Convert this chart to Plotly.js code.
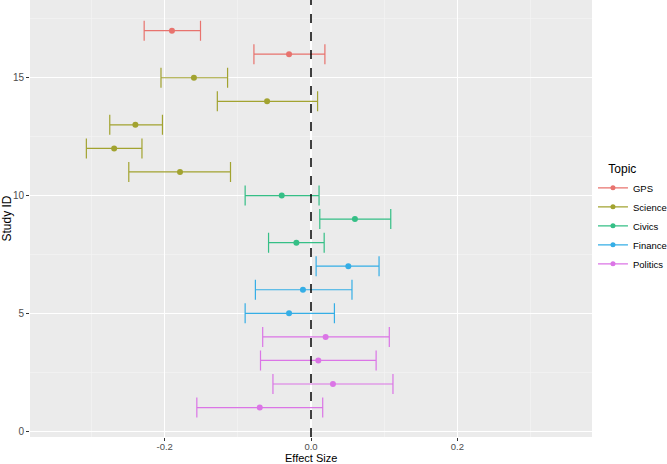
<!DOCTYPE html>
<html><head><meta charset="utf-8">
<script src="https://cdn.plot.ly/plotly-3.0.1.min.js"></script>
<style>html,body{margin:0;padding:0;background:#fff;}#chart{width:667px;height:464px;}</style>
</head><body><div id="chart"></div>
<script>
const topics = ["GPS","Science","Civics","Finance","Politics"];
const colors = ["#E8736E","#A2A330","#35BF86","#35AEE6","#DB75E6"];
const studyId = [17,16,15,14,13,12,11,10,9,8,7,6,5,4,3,2,1];
const studyTopic = ["GPS","GPS","Science","Science","Science","Science","Science","Civics","Civics","Civics","Finance","Finance","Finance","Politics","Politics","Politics","Politics"];
const effect = [-0.190,-0.030,-0.160,-0.060,-0.240,-0.269,-0.179,-0.040,0.060,-0.020,0.051,-0.011,-0.030,0.020,0.010,0.030,-0.070];
const lower  = [-0.228,-0.078,-0.205,-0.128,-0.275,-0.307,-0.249,-0.090,0.012,-0.058,0.007,-0.076,-0.090,-0.066,-0.069,-0.052,-0.156];
const upper  = [-0.151,0.019,-0.114,0.009,-0.203,-0.231,-0.110,0.011,0.109,0.018,0.093,0.056,0.032,0.107,0.089,0.112,0.016];
const xTickVals = [-0.2,0,0.2];
const xTickText = ["-0.2","0.0","0.2"];
const yTickVals = [0,5,10,15];
const yTickText = ["0","5","10","15"];

const traces = [];
topics.forEach((t, k) => {
  const idx = studyTopic.map((s,i)=>s===t?i:-1).filter(i=>i>=0);
  traces.push({
    type:'scatter', mode:'markers', name:t, showlegend:false, legendgroup:t,
    x: idx.map(i=>effect[i]), y: idx.map(i=>studyId[i]),
    marker:{color:colors[k], size:6},
    error_x:{type:'data', symmetric:false,
      array: idx.map(i=>upper[i]-effect[i]),
      arrayminus: idx.map(i=>effect[i]-lower[i]),
      color:colors[k], thickness:1.2, width:10},
    hoverinfo:'x+y'
  });
  traces.push({
    type:'scatter', mode:'lines+markers', name:t, legendgroup:t, showlegend:true,
    x:[null], y:[null], line:{color:colors[k], width:1.2}, marker:{color:colors[k], size:5}
  });
});

const layout = {
  width:667, height:464,
  margin:{l:30, r:75, t:0, b:27, autoexpand:false},
  paper_bgcolor:'#fff', plot_bgcolor:'#EBEBEB',
  font:{family:'Liberation Sans, Arial, sans-serif', color:'#000'},
  xaxis:{
    range:[-0.384,0.384], tickmode:'array', tickvals:xTickVals, ticktext:xTickText,
    showgrid:true, gridcolor:'#fff', gridwidth:1.1, zeroline:false,
    ticks:'outside', ticklen:3, tickcolor:'#333', tickwidth:1, ticklabelstandoff:-2,
    tickfont:{size:9.5, color:'#4D4D4D'},
    minor:{tickmode:'array', tickvals:[-0.3,-0.1,0.1,0.3], showgrid:true, gridcolor:'#F5F5F5', gridwidth:0.6, ticks:''},
    automargin:false, showline:false
  },
  yaxis:{
    range:[-0.25,18.3], tickmode:'array', tickvals:yTickVals, ticktext:yTickText,
    showgrid:true, gridcolor:'#fff', gridwidth:1.1, zeroline:false,
    ticks:'outside', ticklen:3, tickcolor:'#333', tickwidth:1,
    tickfont:{size:10, color:'#4D4D4D'},
    minor:{tickmode:'array', tickvals:[2.5,7.5,12.5,17.5], showgrid:true, gridcolor:'#F5F5F5', gridwidth:0.6, ticks:''},
    title:{text:'Study ID', font:{size:12, color:'#000'}, standoff:3},
    automargin:false, showline:false
  },
  annotations:[{text:'Effect Size', xref:'paper', yref:'paper', x:0.5, y:0,
    xanchor:'center', yanchor:'middle', yshift:-21, showarrow:false, borderpad:0,
    font:{size:11, color:'#000'}}],
  shapes:[{type:'line', xref:'x', yref:'paper', x0:0, x1:0, y0:0, y1:1,
    line:{color:'#000', width:1.5, dash:'dash'}}],
  legend:{
    title:{text:'\u00a0\u00a0\u00a0\u00a0Topic', font:{size:12, color:'#000'}},
    xref:'container', yref:'container',
    x:0.889, xanchor:'left', y:0.66, yanchor:'top',
    font:{size:9.5, color:'#000'}, tracegroupgap:0, itemwidth:30,
    bgcolor:'rgba(0,0,0,0)'
  },
  showlegend:true
};
Plotly.newPlot('chart', traces, layout, {displayModeBar:false, staticPlot:true});
</script></body></html>
